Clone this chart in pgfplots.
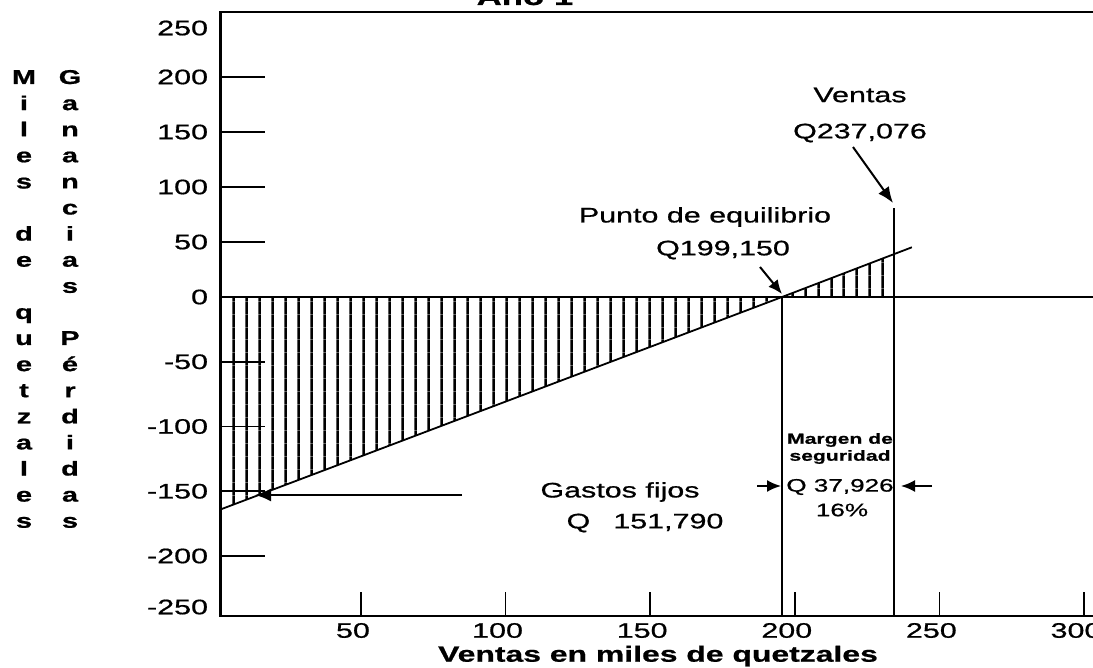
\documentclass[border=0pt]{standalone}
\usepackage{fontspec}
\setmainfont{Liberation Sans}[FakeStretch=1.45,FakeBold=0.8]
\usepackage{pgfplots}
\pgfplotsset{compat=1.18}
\usetikzlibrary{arrows.meta,patterns.meta}
\newcommand\fs[1]{\fontsize{#1}{#1}\selectfont}
\begin{document}
\begin{tikzpicture}
\useasboundingbox (0,0) rectangle (546.5pt,-334pt);
\begin{axis}[
  at={(110.35pt,-308pt)}, anchor=south west,
  scale only axis, width=446.1pt, height=302pt,
  xmin=1.5, xmax=310, ymin=-246.33, ymax=259.09,
  y coord trafo/.code={\pgfmathparse{#1>=0 ? 1.1*#1 : 1.295*#1}},
  y coord inv trafo/.code={\pgfmathparse{#1>=0 ? #1/1.1 : #1/1.295}},
  /pgf/number format/assume math mode=true,
  tick align=inside, ytick pos=left, xtick pos=bottom,
  major tick length=22pt,
  ytick={-200,-150,-100,-50,0,50,100,150,200},
  yticklabels={-200,-150,-100,-50,0,50,100,150,200},
  extra y ticks={-239.4,244.5},
  extra y tick labels={-250,250},
  extra y tick style={major tick length=0pt},
  xtick=\empty,
  extra x ticks={50,100,150,200,250,300},
  extra x tick labels={50,100,150,200,250,300},
  extra x tick style={major tick length=12pt},
  tick label style={font=\fs{10.5}},
  yticklabel style={xshift=-2.8pt},
  xticklabel style={xshift=-4pt},
  axis line style={line width=1.2pt},
  tick style={line width=0.8pt, black},
]
\addplot[draw=none, pattern={Lines[angle=90,distance=6.4pt,line width=1.3pt]}, pattern color=black]
  coordinates {(1.5,0) (1.5,-164) (195.6,0) (234.4,39.0) (234.4,0)} -- cycle;
\addplot[black, line width=0.9pt] coordinates {(1.5,-164) (195.6,0) (240.5,45.2)};
\addplot[black, line width=0.9pt] coordinates {(1.5,0) (310,0)};
\addplot[black, line width=1.1pt] coordinates {(195.6,-246.33) (195.6,0)};
\addplot[black, line width=1.1pt] coordinates {(234.4,-246.33) (234.4,80.9)};
\end{axis}
\begin{scope}[x=0.5pt,y=-0.5pt]
\node[font=\bfseries\fs{12}, anchor=base] at (525,5) {Año 1};
\node[font=\fs{10.5}] at (860,95) {Ventas};
\node[font=\fs{10.5}] at (860,133) {Q237,076};
\draw[line width=1pt, -{Latex[length=8pt,width=6.5pt]}] (853,147) -- (893,203);
\node[font=\fs{10.5}] at (705,217) {Punto de equilibrio};
\node[font=\fs{10.5}] at (723,250) {Q199,150};
\draw[line width=1pt, -{Latex[length=7pt,width=6pt]}] (760,267) -- (782,294);
\node[font=\bfseries\fs{7.3}] at (840,440) {Margen de};
\node[font=\bfseries\fs{7.3}] at (840,457) {seguridad};
\node[font=\fs{9}] at (840,487) {Q 37,926};
\node[font=\fs{9}] at (842,510) {16\%};
\draw[line width=1pt, -{Latex[length=7pt,width=6pt]}] (757,486) -- (781,486);
\draw[line width=1pt, -{Latex[length=7pt,width=6pt]}] (932,486) -- (901,486);
\node[font=\fs{10.5}] at (620,492) {Gastos fijos};
\node[font=\fs{10.5}] at (645,523) {Q\hspace{1.1em}151,790};
\draw[line width=1pt, -{Latex[length=8pt,width=6.5pt]}] (462,495) -- (255,495);
\node[font=\bfseries\fs{11}] at (658,656) {Ventas en miles de quetzales};
\foreach \l [count=\i] in {M,i,l,e,s,{},d,e,{},q,u,e,t,z,a,l,e,s}
  \node[font=\bfseries\fs{10}, anchor=base, inner sep=0pt] at (24,{77+26.1*(\i-1)+7}) {\l};
\foreach \l [count=\i] in {G,a,n,a,n,c,i,a,s,{},P,é,r,d,i,d,a,s}
  \node[font=\bfseries\fs{10}, anchor=base, inner sep=0pt] at (70,{77+26.1*(\i-1)+7}) {\l};
\end{scope}
\end{tikzpicture}
\end{document}
